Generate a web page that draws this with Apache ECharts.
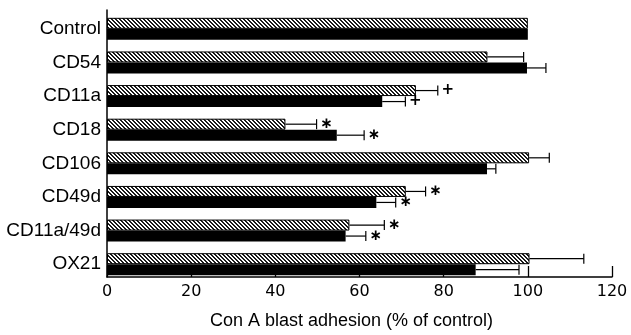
<!DOCTYPE html>
<html>
<head>
<meta charset="utf-8">
<script src="https://cdn.jsdelivr.net/npm/echarts@6/dist/echarts.min.js"></script>
<style>
html, body { margin: 0; padding: 0; background: #fff; }
#chart { width: 631px; height: 335px; }
</style>
</head>
<body>
<div id="chart"></div>
<script>
// values (% of control)
const categories = ["Control", "CD54", "CD11a", "CD18", "CD106", "CD49d", "CD11a/49d", "OX21"];
const hatchedValues = [100, 90.4, 73.4, 42.4, 100.3, 71.0, 57.6, 100.4];
const hatchedErrors = [0, 8.6, 5.2, 7.4, 4.8, 4.7, 8.3, 12.9];
const hatchedMarks = ["", "", "+", "*", "", "*", "*", ""];
const solidValues = [100, 99.8, 65.4, 54.6, 90.3, 64.0, 56.7, 87.6];
const solidErrors = [0, 4.5, 5.5, 6.5, 2.1, 4.6, 4.8, 10.3];
const solidMarks = ["", "", "+", "*", "", "*", "*", ""];
const xTicks = [0, 20, 40, 60, 80, 100, 120];

const BAR_W = 11;

// white fill with "\\\" diagonal hatching
function hatchPattern() {
	const c = document.createElement("canvas");
	c.width = 4;
	c.height = 4;
	const ctx = c.getContext("2d");
	ctx.fillStyle = "#fff";
	ctx.fillRect(0, 0, 4, 4);
	ctx.fillStyle = "#1a1a1a";
	for (let i = 0; i < 4; i++) {
		ctx.fillRect(i, i, 1, 1);
		ctx.fillRect((i + 1) % 4, i, 1, 1);
	}
	return c;
}

function errorSeries(values, errors, marks, offset) {
	return {
		type: "custom",
		xAxisIndex: 0,
		yAxisIndex: 0,
		z: 5,
		clip: false,
		data: values.map((v, i) => [v, v + errors[i], i]),
		renderItem: (params, api) => {
			const lo = api.value(0);
			const hi = api.value(1);
			const cat = api.value(2);
			const start = api.coord([lo, cat]);
			const end = api.coord([hi, cat]);
			const y = start[1] + offset;
			const children = [];
			const line = { stroke: "#000", lineWidth: 1.2 };
			if (hi > lo) {
				children.push({ type: "line", shape: { x1: start[0], y1: y, x2: end[0], y2: y }, style: line });
				children.push({ type: "line", shape: { x1: end[0], y1: y - 5, x2: end[0], y2: y + 5 }, style: line });
			}
			const mark = marks[params.dataIndex];
			if (mark) {
				children.push({
					type: "text",
					style: {
						text: mark === "*" ? "\u2217" : "+",
						x: end[0] + 10,
						y: y,
						align: "center",
						verticalAlign: "middle",
						font: "bold 15px 'DejaVu Sans'",
						fill: "#000",
					},
				});
			}
			return { type: "group", children };
		},
	};
}

const chart = echarts.init(document.getElementById("chart"));
chart.setOption({
	animation: false,
	grid: [
		{ left: 107, right: 19, top: 12, height: 269 },
		{ left: 107, right: 19, top: 10, height: 279 },
	],
	xAxis: [
		{ gridIndex: 0, type: "value", min: 0, max: 120, show: false },
		{
			gridIndex: 1,
			type: "value",
			min: xTicks[0],
			max: xTicks[xTicks.length - 1],
			interval: 20,
			splitLine: { show: false },
			axisLine: { show: true, lineStyle: { color: "#000", width: 1.5 } },
			axisTick: { show: true, inside: true, length: 11, lineStyle: { color: "#000", width: 1.3 } },
			axisLabel: { color: "#000", fontFamily: "DejaVu Sans", fontSize: 16, margin: 7 },
			name: "Con A blast adhesion (% of control)",
			nameLocation: "middle",
			nameGap: 35,
			nameTextStyle: { color: "#000", fontFamily: "Liberation Sans", fontSize: 18, padding: [0, 16, 0, 0] },
		},
	],
	yAxis: [
		{
			gridIndex: 0,
			type: "category",
			inverse: true,
			data: categories,
			axisLine: { show: false },
			axisTick: { show: false },
			axisLabel: { color: "#000", fontFamily: "Liberation Sans", fontSize: 19, margin: 6 },
		},
		{
			gridIndex: 1,
			type: "category",
			data: [""],
			axisLine: { show: true, lineStyle: { color: "#000", width: 1.5 } },
			axisTick: { show: false },
			axisLabel: { show: false },
		},
	],
	series: [
		{
			type: "bar",
			xAxisIndex: 0,
			yAxisIndex: 0,
			data: hatchedValues,
			barWidth: BAR_W,
			barGap: "0%",
			itemStyle: { color: { image: hatchPattern(), repeat: "repeat" }, borderColor: "#000", borderWidth: 1 },
		},
		{
			type: "bar",
			xAxisIndex: 0,
			yAxisIndex: 0,
			data: solidValues,
			barWidth: BAR_W,
			barGap: "0%",
			itemStyle: { color: "#000" },
		},
		errorSeries(hatchedValues, hatchedErrors, hatchedMarks, -BAR_W / 2),
		errorSeries(solidValues, solidErrors, solidMarks, BAR_W / 2),
	],
});
</script>
</body>
</html>
